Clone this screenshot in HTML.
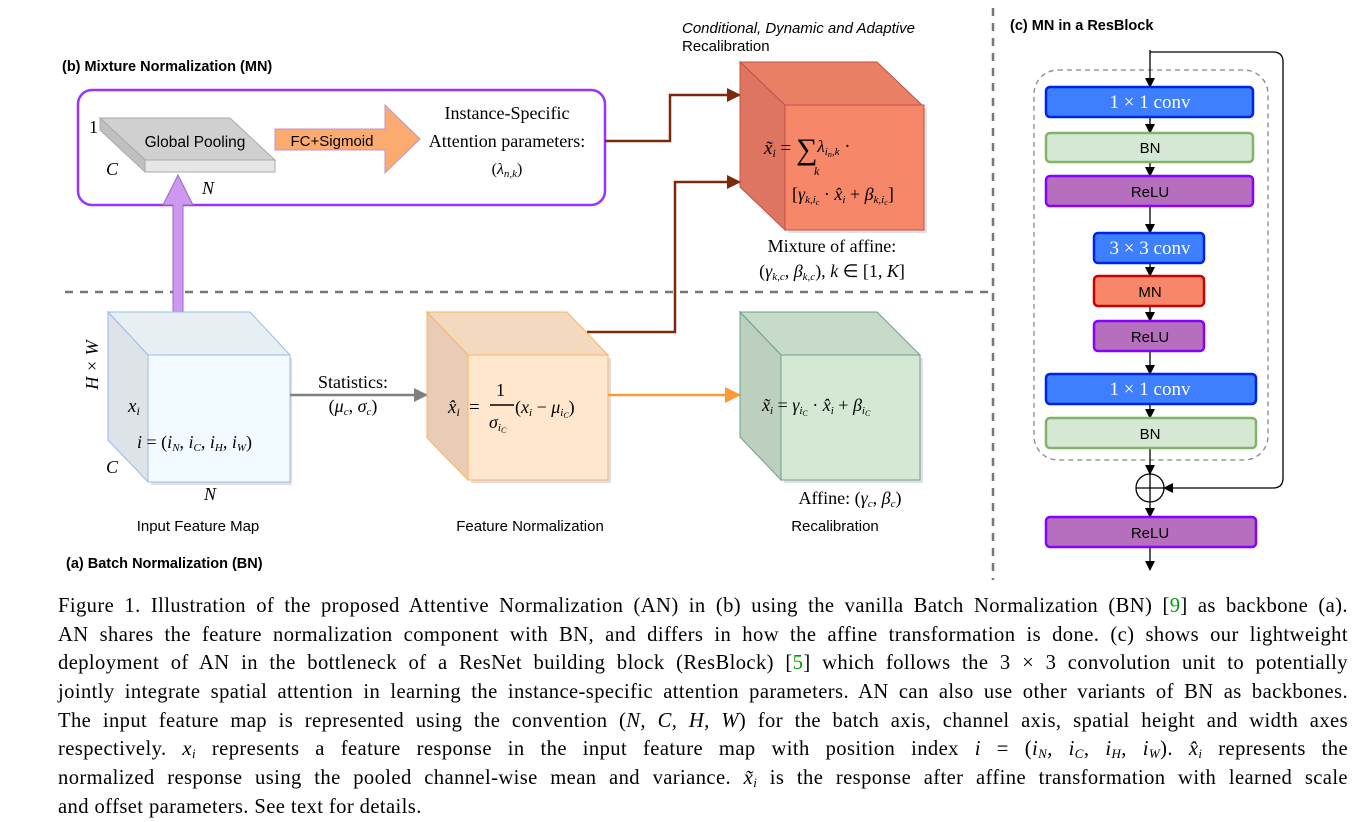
<!DOCTYPE html>
<html><head><meta charset="utf-8">
<style>
body{margin:0;background:#fff;width:1356px;height:821px;overflow:hidden;position:relative}
svg{position:absolute;left:0;top:0}
.s{font-family:"Liberation Sans",sans-serif}
.t{font-family:"Liberation Serif",serif}
#cap{position:absolute;left:58px;top:592px;width:1290px;font-family:"Liberation Serif",serif;font-size:20.6px;letter-spacing:0.4px;line-height:28.7px;color:#000}
#cap div{height:28.7px;text-align:justify;text-align-last:justify;white-space:nowrap;overflow:visible}
#cap div.l{text-align-last:left}
#cap sub{font-size:13px;line-height:0;vertical-align:-3px}
i{font-style:italic}
a{color:#00a000;text-decoration:none}
</style></head><body>
<svg width="1356" height="821" viewBox="0 0 1356 821">
<defs>
<marker id="ab" markerWidth="10" markerHeight="10" refX="9" refY="5" orient="auto" markerUnits="userSpaceOnUse"><path d="M0,0 L10,5 L0,10 z" fill="#000"/></marker>
<marker id="ar" markerWidth="14" markerHeight="14" refX="13" refY="7" orient="auto" markerUnits="userSpaceOnUse"><path d="M0,0 L14,7 L0,14 z" fill="#7a2a0a"/></marker>
<marker id="ag" markerWidth="14" markerHeight="14" refX="13" refY="7" orient="auto" markerUnits="userSpaceOnUse"><path d="M0,0 L14,7 L0,14 z" fill="#808080"/></marker>
<marker id="ao" markerWidth="16" markerHeight="16" refX="15" refY="8" orient="auto" markerUnits="userSpaceOnUse"><path d="M0,0 L16,8 L0,16 z" fill="#ff9933"/></marker>
</defs>
<line x1="993" y1="8" x2="993" y2="580" stroke="#777" stroke-width="2.5" stroke-dasharray="8,7"/>
<line x1="65" y1="292" x2="990" y2="292" stroke="#777" stroke-width="2.5" stroke-dasharray="8,7"/>

<text x="682" y="33" class="s" font-size="15" font-style="italic">Conditional, Dynamic and Adaptive</text>
<text x="682" y="51" class="s" font-size="15">Recalibration</text>
<text x="62" y="71" class="s" font-size="14.5" font-weight="bold">(b) Mixture Normalization (MN)</text>
<text x="66" y="568" class="s" font-size="14.5" font-weight="bold">(a) Batch Normalization (BN)</text>
<text x="1010" y="30" class="s" font-size="14.5" font-weight="bold">(c) MN in a ResBlock</text>

<rect x="78" y="90" width="527" height="115" rx="14" fill="none" stroke="#9933ff" stroke-width="2.5"/>
<polygon points="100,118 230,118 275,160 145,160" fill="#d0d0d0" stroke="#aaa"/>
<polygon points="100,118 145,160 145,172 100,130" fill="#c0c0c0" stroke="#aaa"/>
<rect x="145" y="160" width="130" height="12" fill="#e6e6e6" stroke="#aaa"/>
<text x="195" y="147" class="s" font-size="15.5" text-anchor="middle">Global Pooling</text>
<text x="89" y="133" class="t" font-size="18">1</text>
<text x="106" y="175" class="t" font-size="18" font-style="italic">C</text>
<text x="202" y="194" class="t" font-size="18" font-style="italic">N</text>
<polygon points="275,129 385,129 385,105 420,139 385,173 385,150 275,150" fill="#fbaa70" stroke="#c090d0"/>
<text x="332" y="146" class="s" font-size="15" text-anchor="middle">FC+Sigmoid</text>
<text x="507" y="119" class="t" font-size="18" text-anchor="middle">Instance-Specific</text>
<text x="507" y="147" class="t" font-size="18" text-anchor="middle">Attention parameters:</text>
<text x="507" y="174" class="t" font-size="16" text-anchor="middle">(<tspan font-style="italic">λ</tspan><tspan font-size="11" dy="3" font-style="italic">n,k</tspan><tspan dy="-3">)</tspan></text>
<polygon points="173,316 173,205 163,205 178,175 193,205 183,205 183,316" fill="#cc99ee" stroke="#9966cc"/>

<polyline points="605,141 670,141 670,95 740,95" fill="none" stroke="#7a2a0a" stroke-width="2.5" marker-end="url(#ar)"/>
<polyline points="587,332 675,332 675,182 740,182" fill="none" stroke="#7a2a0a" stroke-width="2.5" marker-end="url(#ar)"/>

<rect x="788" y="108" width="139" height="125" fill="#ccc" opacity=".6"/>
<polygon points="740,62 877,62 922,105 785,105" fill="#e98065" stroke="#c0504d"/>
<polygon points="740,62 785,105 785,230 740,187" fill="#de7560" stroke="#c0504d"/>
<rect x="785" y="105" width="139" height="125" fill="#f78769" stroke="#c0504d"/>
<text x="764" y="154" class="t" font-size="19"><tspan font-style="italic">x̃</tspan><tspan font-size="12" dy="3" font-style="italic">i</tspan><tspan dy="-3"> = </tspan><tspan font-size="30" dy="5">∑</tspan><tspan dy="-7" font-style="italic" font-size="17">λ</tspan><tspan font-size="11" dy="3" font-style="italic">i</tspan><tspan font-size="8" dy="2" font-style="italic">n</tspan><tspan font-size="11" dy="-2" font-style="italic">,k</tspan><tspan dy="-3"> ·</tspan></text>
<text x="814" y="175" class="t" font-size="12" font-style="italic">k</text>
<text x="792" y="200" class="t" font-size="18">[<tspan font-style="italic">γ</tspan><tspan font-size="11" dy="3" font-style="italic">k,i</tspan><tspan font-size="8" dy="2" font-style="italic">c</tspan><tspan dy="-5"> · </tspan><tspan font-style="italic">x̂</tspan><tspan font-size="11" dy="3" font-style="italic">i</tspan><tspan dy="-3"> + </tspan><tspan font-style="italic">β</tspan><tspan font-size="11" dy="3" font-style="italic">k,i</tspan><tspan font-size="8" dy="2" font-style="italic">c</tspan><tspan dy="-5">]</tspan></text>
<text x="832" y="252" class="t" font-size="18" text-anchor="middle">Mixture of affine:</text>
<text x="832" y="277" class="t" font-size="18" text-anchor="middle">(<tspan font-style="italic">γ</tspan><tspan font-size="11" dy="3" font-style="italic">k,c</tspan><tspan dy="-3">, </tspan><tspan font-style="italic">β</tspan><tspan font-size="11" dy="3" font-style="italic">k,c</tspan><tspan dy="-3">), </tspan><tspan font-style="italic">k</tspan> ∈ [1, <tspan font-style="italic">K</tspan>]</text>

<rect x="151" y="358" width="141" height="127" fill="#ccc" opacity=".6"/>
<polygon points="108,312 250,312 290,355 148,355" fill="#e8eff3" stroke="#99bbee"/>
<polygon points="108,312 148,355 148,482 108,440" fill="#dde3e7" stroke="#99bbee"/>
<rect x="148" y="355" width="142" height="127" fill="#f2fbff" stroke="#99bbee"/>
<text x="98" y="365" class="t" font-size="18" font-style="italic" transform="rotate(-90 98 365)" text-anchor="middle">H × W</text>
<text x="128" y="412" class="t" font-size="19" font-style="italic">x<tspan font-size="12" dy="3">i</tspan></text>
<text x="137" y="448" class="t" font-size="18"><tspan font-style="italic">i</tspan> = (<tspan font-style="italic">i</tspan><tspan font-size="11" dy="3" font-style="italic">N</tspan><tspan dy="-3">, </tspan><tspan font-style="italic">i</tspan><tspan font-size="11" dy="3" font-style="italic">C</tspan><tspan dy="-3">, </tspan><tspan font-style="italic">i</tspan><tspan font-size="11" dy="3" font-style="italic">H</tspan><tspan dy="-3">, </tspan><tspan font-style="italic">i</tspan><tspan font-size="11" dy="3" font-style="italic">W</tspan><tspan dy="-3">)</tspan></text>
<text x="106" y="473" class="t" font-size="18" font-style="italic">C</text>
<text x="204" y="500" class="t" font-size="18" font-style="italic">N</text>
<text x="198" y="531" class="s" font-size="15" text-anchor="middle">Input Feature Map</text>

<line x1="290" y1="395" x2="427" y2="395" stroke="#808080" stroke-width="2.5" marker-end="url(#ag)"/>
<text x="353" y="388" class="t" font-size="18" text-anchor="middle">Statistics:</text>
<text x="353" y="412" class="t" font-size="18" text-anchor="middle">(<tspan font-style="italic">μ</tspan><tspan font-size="11" dy="3" font-style="italic">c</tspan><tspan dy="-3">, </tspan><tspan font-style="italic">σ</tspan><tspan font-size="11" dy="3" font-style="italic">c</tspan><tspan dy="-3">)</tspan></text>

<rect x="471" y="358" width="140" height="125" fill="#ccc" opacity=".6"/>
<polygon points="427,312 567,312 608,355 468,355" fill="#f3d9bf" stroke="#ffb366"/>
<polygon points="427,312 468,355 468,480 427,438" fill="#e8ccb5" stroke="#ffb366"/>
<rect x="468" y="355" width="140" height="125" fill="#ffe6cc" stroke="#ffb366"/>
<text x="448" y="413" class="t" font-size="19" font-style="italic">x̂<tspan font-size="12" dy="3">i</tspan></text>
<text x="469" y="413" class="t" font-size="19">=</text>
<text x="496" y="396" class="t" font-size="18">1</text>
<line x1="490" y1="405" x2="514" y2="405" stroke="#000" stroke-width="1.5"/>
<text x="489" y="428" class="t" font-size="18" font-style="italic">σ<tspan font-size="11" dy="3">i</tspan><tspan font-size="8" dy="2">C</tspan></text>
<text x="515" y="413" class="t" font-size="18">(<tspan font-style="italic">x</tspan><tspan font-size="11" dy="3" font-style="italic">i</tspan><tspan dy="-3"> − </tspan><tspan font-style="italic">μ</tspan><tspan font-size="11" dy="3" font-style="italic">i</tspan><tspan font-size="8" dy="2" font-style="italic">C</tspan><tspan dy="-5">)</tspan></text>
<text x="530" y="531" class="s" font-size="15" text-anchor="middle">Feature Normalization</text>

<line x1="608" y1="395" x2="740" y2="395" stroke="#ff9933" stroke-width="2.5" marker-end="url(#ao)"/>

<rect x="784" y="358" width="139" height="125" fill="#ccc" opacity=".6"/>
<polygon points="740,312 877,312 920,355 781,355" fill="#c8dac8" stroke="#6aa08f"/>
<polygon points="740,312 781,355 781,480 740,437" fill="#bdcfbd" stroke="#6aa08f"/>
<rect x="781" y="355" width="139" height="125" fill="#d5e8d4" stroke="#6aa08f"/>
<text x="762" y="411" class="t" font-size="18"><tspan font-style="italic">x̃</tspan><tspan font-size="11" dy="3" font-style="italic">i</tspan><tspan dy="-3"> = </tspan><tspan font-style="italic">γ</tspan><tspan font-size="11" dy="3" font-style="italic">i</tspan><tspan font-size="8" dy="2" font-style="italic">C</tspan><tspan dy="-5"> · </tspan><tspan font-style="italic">x̂</tspan><tspan font-size="11" dy="3" font-style="italic">i</tspan><tspan dy="-3"> + </tspan><tspan font-style="italic">β</tspan><tspan font-size="11" dy="3" font-style="italic">i</tspan><tspan font-size="8" dy="2" font-style="italic">C</tspan></text>
<text x="850" y="504" class="t" font-size="18" text-anchor="middle">Affine: (<tspan font-style="italic">γ</tspan><tspan font-size="11" dy="3" font-style="italic">c</tspan><tspan dy="-3">, </tspan><tspan font-style="italic">β</tspan><tspan font-size="11" dy="3" font-style="italic">c</tspan><tspan dy="-3">)</tspan></text>
<text x="835" y="531" class="s" font-size="15" text-anchor="middle">Recalibration</text>

<rect x="1034" y="70" width="234" height="390" rx="24" fill="none" stroke="#888" stroke-width="1.3" stroke-dasharray="5,4"/>
<path d="M1150,50 L1150,87" stroke="#000" stroke-width="1.3" marker-end="url(#ab)"/>
<path d="M1150,52 L1273,52 Q1283,52 1283,62 L1283,478 Q1283,488 1273,488 L1164,488" fill="none" stroke="#000" stroke-width="1.3" marker-end="url(#ab)"/>
<g stroke="#000" stroke-width="1.3" fill="none">
<line x1="1150" y1="117" x2="1150" y2="133" marker-end="url(#ab)"/>
<line x1="1150" y1="162" x2="1150" y2="176" marker-end="url(#ab)"/>
<line x1="1150" y1="206" x2="1150" y2="233" marker-end="url(#ab)"/>
<line x1="1150" y1="263" x2="1150" y2="276" marker-end="url(#ab)"/>
<line x1="1150" y1="306" x2="1150" y2="321" marker-end="url(#ab)"/>
<line x1="1150" y1="351" x2="1150" y2="374" marker-end="url(#ab)"/>
<line x1="1150" y1="404" x2="1150" y2="418" marker-end="url(#ab)"/>
<line x1="1150" y1="448" x2="1150" y2="474" marker-end="url(#ab)"/>
<line x1="1150" y1="474" x2="1150" y2="517" marker-end="url(#ab)"/>
<line x1="1150" y1="547" x2="1150" y2="570" marker-end="url(#ab)"/>
<circle cx="1150" cy="488" r="14"/>
<line x1="1136" y1="488" x2="1164" y2="488"/>
</g>
<g class="s" font-size="15" text-anchor="middle">
<rect x="1046" y="87" width="207" height="30" rx="4" fill="#3d7fff" stroke="#0022ee" stroke-width="2.5"/>
<text x="1150" y="108" class="t" font-size="19" fill="#fff">1 × 1 conv</text>
<rect x="1046" y="133" width="207" height="29" rx="4" fill="#d5e8d4" stroke="#82b366" stroke-width="2.5"/>
<text x="1150" y="153">BN</text>
<rect x="1046" y="176" width="207" height="30" rx="4" fill="#b56fbd" stroke="#8800ff" stroke-width="2.5"/>
<text x="1150" y="197">ReLU</text>
<rect x="1094" y="233" width="110" height="30" rx="4" fill="#3d7fff" stroke="#0022ee" stroke-width="2.5"/>
<text x="1150" y="254" class="t" font-size="19" fill="#fff">3 × 3 conv</text>
<rect x="1094" y="276" width="110" height="30" rx="4" fill="#f78769" stroke="#cc0000" stroke-width="2.5"/>
<text x="1150" y="297">MN</text>
<rect x="1094" y="321" width="110" height="30" rx="4" fill="#b56fbd" stroke="#8800ff" stroke-width="2.5"/>
<text x="1150" y="342">ReLU</text>
<rect x="1046" y="374" width="210" height="30" rx="4" fill="#3d7fff" stroke="#0022ee" stroke-width="2.5"/>
<text x="1150" y="395" class="t" font-size="19" fill="#fff">1 × 1 conv</text>
<rect x="1046" y="418" width="210" height="30" rx="4" fill="#d5e8d4" stroke="#82b366" stroke-width="2.5"/>
<text x="1150" y="439">BN</text>
<rect x="1046" y="517" width="210" height="30" rx="4" fill="#b56fbd" stroke="#8800ff" stroke-width="2.5"/>
<text x="1150" y="538">ReLU</text>
</g>
</svg>
<div id="cap">
<div>Figure 1. Illustration of the proposed Attentive Normalization (AN) in (b) using the vanilla Batch Normalization (BN) [<a>9</a>] as backbone (a).</div>
<div>AN shares the feature normalization component with BN, and differs in how the affine transformation is done. (c) shows our lightweight</div>
<div>deployment of AN in the bottleneck of a ResNet building block (ResBlock) [<a>5</a>] which follows the 3 × 3 convolution unit to potentially</div>
<div>jointly integrate spatial attention in learning the instance-specific attention parameters. AN can also use other variants of BN as backbones.</div>
<div>The input feature map is represented using the convention (<i>N, C, H, W</i>) for the batch axis, channel axis, spatial height and width axes</div>
<div>respectively. <i>x<sub>i</sub></i> represents a feature response in the input feature map with position index <i>i</i> = (<i>i<sub>N</sub>, i<sub>C</sub>, i<sub>H</sub>, i<sub>W</sub></i>). <i>x̂<sub>i</sub></i> represents the</div>
<div>normalized response using the pooled channel-wise mean and variance. <i>x̃<sub>i</sub></i> is the response after affine transformation with learned scale</div>
<div class="l">and offset parameters. See text for details.</div>
</div>
</body></html>
